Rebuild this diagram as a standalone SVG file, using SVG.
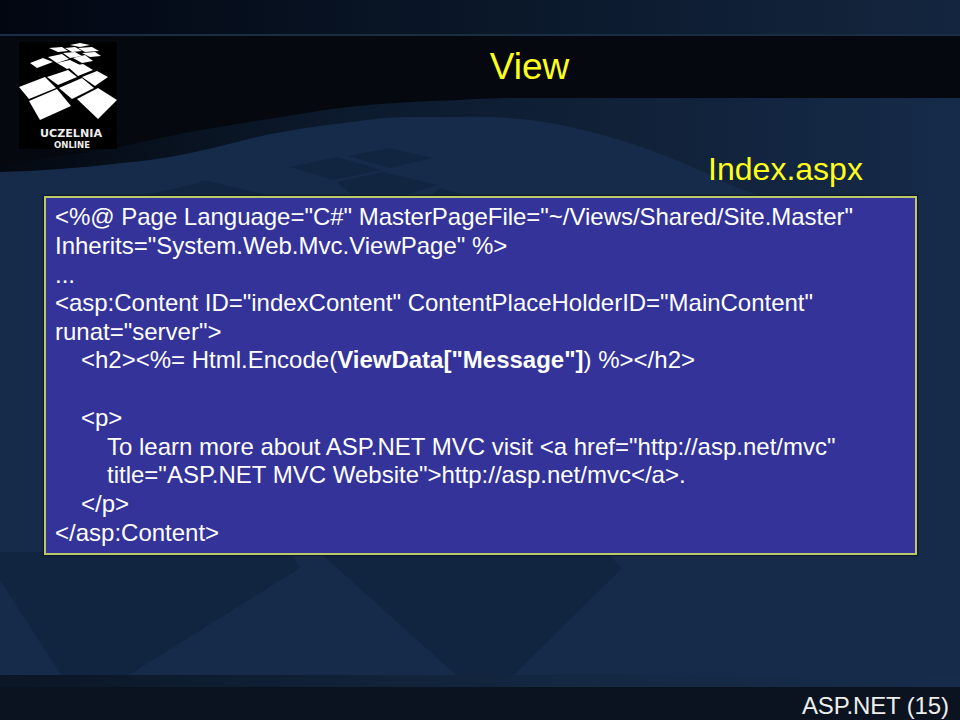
<svg xmlns="http://www.w3.org/2000/svg" width="960" height="720" viewBox="0 0 960 720">
<style>
.c{font-family:"Liberation Sans",Arial,sans-serif;font-size:24px;fill:#fff}
.b{font-weight:bold}
.t{font-family:"Liberation Sans",Arial,sans-serif;fill:#ffff1a}
.s{fill:#122540}
.l{fill:#fff}
</style>
<defs>
<linearGradient id="top" x1="0" y1="0" x2="1" y2="0"><stop offset="0" stop-color="#020611"/><stop offset="0.5" stop-color="#0a1729"/><stop offset="1" stop-color="#14263f"/></linearGradient>
<linearGradient id="wave" x1="0" y1="0" x2="1" y2="0"><stop offset="0" stop-color="#040911"/><stop offset="0.35" stop-color="#0c1a2d"/><stop offset="0.7" stop-color="#11223a"/><stop offset="1" stop-color="#162b4a"/></linearGradient>
<linearGradient id="foot" x1="0" y1="0" x2="1" y2="0"><stop offset="0" stop-color="#0b1626"/><stop offset="0.6" stop-color="#142842"/><stop offset="1" stop-color="#172c4a"/></linearGradient>
</defs>
<rect width="960" height="720" fill="#162b4a"/>
<path d="M0 36H960V196H760L735 187C700 170 640 140 551 123C520 118 490 116 459 117C420 117 395 116 367 120C320 126 285 130 245 140C205 150 165 160 122 163C80 168 40 171 0 172Z" fill="url(#wave)"/>
<path d="M0 36H960V98H520C495 98 475 99 459 100C400 102 350 105 306 113C265 120 225 125 184 133C160 138 135 143 116 148L0 165Z" fill="#05090f"/>
<rect width="960" height="34" fill="url(#top)"/>
<rect y="34" width="960" height="2" fill="#1b2c45"/>
<path class="s" d="M290 167 337 157 382 170 333 180Z"/>
<path class="s" d="M348 156 390 148 433 158 390 168Z"/>
<path class="s" d="M337 182 383 172 437 185 403 196H353Z"/>
<path class="s" d="M141 196 208 181 270 196Z"/>
<path class="s" d="M200 180 243 196H200Z"/>
<path class="s" d="M440 188 467 196H430Z"/>
<path class="s" d="M0 552H290L300 568 129 675H61L0 580Z"/>
<path class="s" d="M320 552H606L622 568 514 675H456L337 568Z"/>
<rect y="675" width="960" height="12" fill="url(#foot)"/>
<rect y="687" width="960" height="33" fill="#0a131f"/>
<g id="logo"><rect x="19" y="42" width="98" height="107" fill="#000"/>
<g class="l">
<path d="M19 87 45 77 56 88 29 99Z"/><path d="M29 101 57 89 71 106 40 120Z"/><path d="M77 99 98 88 117 100 98 119Z"/><path d="M59 88 82 78 94 88 72 99Z"/><path d="M47 77 68 70 77 77 58 85Z"/><path d="M82 77 97 71 108 77 95 86Z"/><path d="M68 67 83 64 93 70 78 76Z"/><path d="M30 63 43 58 53 62 37 68Z"/><path d="M48 57 62 54 69 59 57 63Z"/><path d="M57 63 70 60 80 65 67 69Z"/><path d="M73 58 85 55 93 61 82 63Z"/><path d="M63 53 75 52 82 56 70 58Z"/><path d="M49 48 62 47 68 51 58 52Z"/><path d="M65 48 75 47 82 51 72 52Z"/><path d="M78 48 92 47 99 51 85 52Z"/><path d="M82 53 95 52 101 56 90 57Z"/><path d="M70 45 80 43 90 45 80 47Z"/>
</g>
<text x="40" y="137" textLength="62" lengthAdjust="spacingAndGlyphs" font-family="'DejaVu Sans',sans-serif" font-size="11" font-weight="bold" fill="#eee">UCZELNIA</text>
<text x="54" y="148" textLength="36" lengthAdjust="spacingAndGlyphs" font-family="'DejaVu Sans',sans-serif" font-size="9" font-weight="bold" fill="#eee">ONLINE</text></g>
<text class="t" x="529.500" y="79" text-anchor="middle" font-size="37">View</text>
<text class="t" x="785.500" y="180" text-anchor="middle" font-size="32">Index.aspx</text>
<g id="code"><rect x="44" y="196" width="873" height="359" fill="none" stroke="#0e1b2c" stroke-width="2.500"/>
<rect x="45" y="197" width="871" height="357" fill="#333399" stroke="#bcc96a" stroke-width="2"/>
<text class="c" x="55" y="225" textLength="798">&lt;%@ Page Language="C#" MasterPageFile="~/Views/Shared/Site.Master"</text>
<text class="c" x="55" y="254">Inherits="System.Web.Mvc.ViewPage" %&gt;</text>
<text class="c" x="55" y="283">...</text>
<text class="c" x="55" y="311" textLength="758">&lt;asp:Content ID="indexContent" ContentPlaceHolderID="MainContent"</text>
<text class="c" x="55" y="340">runat="server"&gt;</text>
<text class="c" x="81" y="368">&lt;h2&gt;&lt;%= Html.Encode(<tspan class="b">ViewData["Message"]</tspan>) %&gt;&lt;/h2&gt;</text>
<text class="c" x="81" y="426">&lt;p&gt;</text>
<text class="c" x="107" y="455">To learn more about ASP.NET MVC visit &lt;a href="http://asp.net/mvc"</text>
<text class="c" x="107" y="483">title="ASP.NET MVC Website"&gt;http://asp.net/mvc&lt;/a&gt;.</text>
<text class="c" x="81" y="512">&lt;/p&gt;</text>
<text class="c" x="55" y="541">&lt;/asp:Content&gt;</text></g>
<text class="c" x="802" y="714" textLength="147" style="fill:#eee">ASP.NET (15)</text>
</svg>
